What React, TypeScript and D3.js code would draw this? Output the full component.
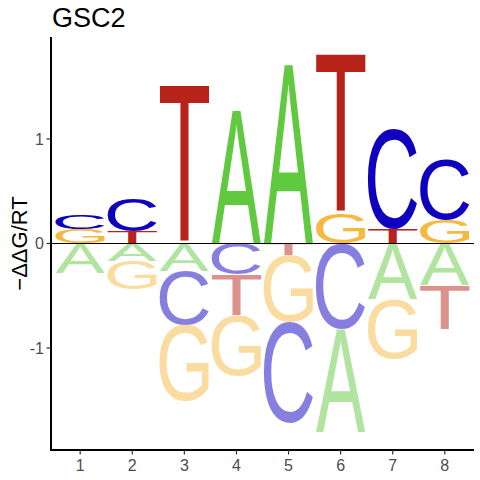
import { useMemo } from "react";
import * as d3 from "d3";

const TITLE = "GSC2";
const POSITIONS = [1, 2, 3, 4, 5, 6, 7, 8];
const BASES = ["A", "C", "G", "T"];

const A_VAL = [-0.28, -0.17, -0.26, 1.27, 1.71, -0.98, -0.53, -0.4];
const C_VAL = [0.14, 0.31, -0.52, -0.3, -0.97, -0.82, 0.96, 0.583];
const G_VAL = [0.135, -0.27, -0.73, -0.58, -0.64, 0.285, -0.57, 0.227];
const T_VAL = [0, 0.115, 1.51, -0.39, -0.11, 1.515, 0.13, -0.42];

const Y_TICKS = [-1, 0, 1];

// ─── Palette ─────────────────────────────────────────────────────────────────

const COLORS: Record<string, string> = {
  A: "#61C93F",
  C: "#0F00C0",
  G: "#F5B941",
  T: "#B72319",
};
const TICK_TEXT = "#4D4D4D";
const FONT = "'Liberation Sans', Arial, sans-serif";

// ─── Layout ──────────────────────────────────────────────────────────────────

const W = 480,
  H = 480;
const P = { left: 51, right: 474, top: 37, bottom: 450 };
const LETTER_W = 0.95;

const x = d3.scaleLinear().domain([0.44, 8.56]).range([P.left, P.right]);
const y = d3.scaleLinear().domain([-1.975, 1.975]).range([P.bottom, P.top]);

const values: Record<string, number[]> = { A: A_VAL, C: C_VAL, G: G_VAL, T: T_VAL };

// tight glyph bounds at 100px, measured once through canvas
function glyphBoxes() {
  const ctx = document.createElement("canvas").getContext("2d")!;
  ctx.font = "100px 'Liberation Sans'";
  const out: Record<string, { l: number; r: number; a: number; d: number }> = {};
  BASES.forEach((b) => {
    const m = ctx.measureText(b);
    out[b] = {
      l: m.actualBoundingBoxLeft,
      r: m.actualBoundingBoxRight,
      a: m.actualBoundingBoxAscent,
      d: m.actualBoundingBoxDescent,
    };
  });
  return out;
}

type Letter = { base: string; pos: number; y0: number; y1: number; neg: boolean };

function stackLetters(): Letter[] {
  const out: Letter[] = [];
  POSITIONS.forEach((pos, i) => {
    const items = BASES.map((b) => ({ base: b, v: values[b][i] })).filter((d) => d.v !== 0);
    const pos_ = items.filter((d) => d.v > 0).sort((a, b) => a.v - b.v);
    const neg_ = items.filter((d) => d.v < 0).sort((a, b) => b.v - a.v);
    let acc = 0;
    pos_.forEach((d) => {
      out.push({ base: d.base, pos, y0: acc, y1: acc + d.v, neg: false });
      acc += d.v;
    });
    acc = 0;
    neg_.forEach((d) => {
      out.push({ base: d.base, pos, y0: acc + d.v, y1: acc, neg: true });
      acc += d.v;
    });
  });
  return out;
}

export default function App() {
  const boxes = useMemo(glyphBoxes, []);
  const letters = useMemo(stackLetters, []);
  const unit = x(1) - x(0);

  return (
    <svg
      width={W}
      height={H}
      viewBox={`0 0 ${W} ${H}`}
      style={{ position: "fixed", left: 0, top: 0, background: "#fff", display: "block" }}
      fontFamily={FONT}
    >
      <rect width={W} height={H} fill="#fff" />

      {/* letters */}
      {letters.map((d, i) => {
        const g = boxes[d.base];
        const gw = g.l + g.r;
        const gh = g.a + g.d;
        const x0 = x(d.pos) - (LETTER_W * unit) / 2;
        const top = y(d.y1);
        const h = y(d.y0) - top;
        const w = LETTER_W * unit;
        return (
          <text
            key={i}
            transform={`translate(${x0},${top}) scale(${w / gw},${h / gh}) translate(${g.l},${g.a})`}
            fontSize={100}
            fill={COLORS[d.base]}
            fillOpacity={d.neg ? 0.5 : 1}
            style={{ fontFamily: "'Liberation Sans'" }}
          >
            {d.base}
          </text>
        );
      })}

      {/* zero line */}
      <line x1={P.left} x2={P.right} y1={y(0)} y2={y(0)} stroke="#000" strokeWidth={1.2} />

      {/* y axis */}
      <line x1={P.left} x2={P.left} y1={P.top} y2={P.bottom + 1} stroke="#000" strokeWidth={2} />
      {Y_TICKS.map((t) => (
        <g key={t}>
          <line x1={P.left - 4.5} x2={P.left} y1={y(t)} y2={y(t)} stroke="#333" strokeWidth={1.2} />
          <text
            x={P.left - 7}
            y={y(t)}
            dy="0.36em"
            textAnchor="end"
            fontSize={16}
            fill={TICK_TEXT}
          >
            {t < 0 ? `-${Math.abs(t)}` : t}
          </text>
        </g>
      ))}

      {/* x axis */}
      <line x1={P.left - 1} x2={P.right} y1={P.bottom} y2={P.bottom} stroke="#000" strokeWidth={2} />
      {POSITIONS.map((p) => (
        <g key={p}>
          <line x1={x(p)} x2={x(p)} y1={P.bottom} y2={P.bottom + 4.5} stroke="#333" strokeWidth={1.2} />
          <text x={x(p)} y={470.5} textAnchor="middle" fontSize={16} fill={TICK_TEXT}>
            {p}
          </text>
        </g>
      ))}

      {/* labels */}
      <text
        transform={`translate(26.5,${(P.top + P.bottom) / 2}) rotate(-90)`}
        textAnchor="middle"
        fontSize={22}
        fill="#000"
      >
        −ΔΔG/RT
      </text>
      <text x={52} y={27} fontSize={27} fill="#000">
        {TITLE}
      </text>
    </svg>
  );
}
